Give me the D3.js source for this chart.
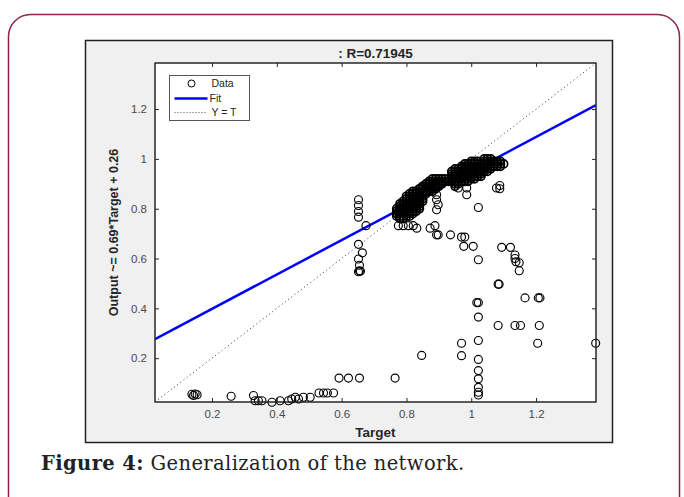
<html>
<head>
    <title>Regression Plot</title>
    <meta charset="utf-8" />
    <style>
      body {
    margin: 0;
    padding: 0;
    background: #fff;
}

.axis-frame {
    fill: #fff;
    stroke: #262626;
    stroke-width: 1;
}

.tick-label {
    fill: #4a4a4a;
    font-family: 'Liberation Sans', Arial, sans-serif;
    font-size: 11.5px;
}

.axis-title {
    fill: #262626;
    font-family: 'Liberation Sans', Arial, sans-serif;
    font-size: 13.5px;
    font-weight: bold;
}

.dot {
    fill: none;
    stroke: #000;
    stroke-width: 1.15;
}

.dot.dense {
    stroke-width: 1.7;
}
    </style>
    <script src="https://d3js.org/d3.v7.min.js"></script>
</head>
<body>
    <script>
// scattered points (target, output)
var scatterTargets = [
    0.138, 0.143, 0.148, 0.154, 0.259, 0.328, 0.333, 0.343, 0.354, 0.385,
    0.410, 0.436, 0.446, 0.457, 0.467, 0.482, 0.503, 0.530, 0.544, 0.556,
    0.575, 0.592, 0.621, 0.655, 0.765, 0.847,
    0.652, 0.652, 0.652, 0.652, 0.675, 0.652, 0.664, 0.652, 0.655, 0.655, 0.652, 0.658,
    0.770, 0.775, 0.790, 0.806, 0.821, 0.832, 0.873, 0.888, 0.893, 0.898,
    0.893, 0.893, 0.898, 0.893, 0.936, 0.970, 0.980, 0.977, 1.006, 1.022,
    1.022, 0.986, 0.960, 0.986, 1.078, 1.088, 1.088, 1.094, 1.121,
    1.135, 1.135, 1.138, 1.148, 1.148, 1.083, 1.086, 1.017, 1.022,
    1.166, 1.207, 1.212, 1.022, 1.083, 1.135, 1.152, 1.210,
    0.970, 1.022, 1.205, 1.384, 0.970, 1.022,
    1.022, 1.022, 1.022, 1.022, 1.022
];
var scatterOutputs = [
    0.055, 0.050, 0.056, 0.053, 0.047, 0.050, 0.029, 0.029, 0.029, 0.023,
    0.029, 0.029, 0.036, 0.043, 0.036, 0.043, 0.043, 0.060, 0.060, 0.060,
    0.060, 0.120, 0.120, 0.120, 0.120, 0.211,
    0.836, 0.813, 0.789, 0.766, 0.732, 0.657, 0.623, 0.598, 0.573, 0.551, 0.547, 0.549,
    0.780, 0.732, 0.732, 0.732, 0.732, 0.722, 0.722, 0.732, 0.695, 0.695,
    0.856, 0.836, 0.816, 0.796, 0.695, 0.686, 0.686, 0.649, 0.649, 0.595,
    0.805, 0.856, 0.883, 0.883, 0.883, 0.893, 0.880, 0.645, 0.645,
    0.614, 0.600, 0.587, 0.583, 0.551, 0.497, 0.497, 0.423, 0.423,
    0.442, 0.442, 0.442, 0.365, 0.331, 0.331, 0.331, 0.331,
    0.260, 0.271, 0.260, 0.260, 0.210, 0.195,
    0.150, 0.117, 0.083, 0.063, 0.052
];

// dense band along the diagonal: one target per column, outputs stacked in it
var bandTargets = [
    0.77, 0.78, 0.79, 0.80, 0.81, 0.82, 0.83, 0.84, 0.85, 0.86,
    0.87, 0.88, 0.89, 0.90, 0.91, 0.92, 0.93, 0.94, 0.95, 0.96,
    0.97, 0.98, 0.99, 1.00, 1.01, 1.02, 1.03, 1.04, 1.05, 1.06,
    1.07, 1.08, 1.09, 1.10
];
var bandOutputs = [
    [0.77, 0.78, 0.79, 0.80],
    [0.76, 0.77, 0.78, 0.79, 0.80, 0.81, 0.82],
    [0.76, 0.77, 0.78, 0.79, 0.80, 0.81, 0.82, 0.83],
    [0.77, 0.78, 0.79, 0.80, 0.81, 0.82, 0.83, 0.84, 0.85],
    [0.77, 0.78, 0.79, 0.80, 0.81, 0.82, 0.83, 0.84, 0.85, 0.86],
    [0.78, 0.79, 0.80, 0.81, 0.82, 0.83, 0.84, 0.85, 0.86, 0.87],
    [0.79, 0.80, 0.81, 0.82, 0.83, 0.84, 0.85, 0.86, 0.87],
    [0.80, 0.81, 0.82, 0.83, 0.84, 0.85, 0.86, 0.87, 0.88],
    [0.83, 0.84, 0.85, 0.86, 0.87, 0.88, 0.89],
    [0.86, 0.87, 0.88, 0.89, 0.90],
    [0.87, 0.88, 0.89, 0.90, 0.91],
    [0.87, 0.88, 0.89, 0.90, 0.91, 0.92],
    [0.88, 0.89, 0.90, 0.91, 0.92],
    [0.89, 0.90, 0.91, 0.92],
    [0.90, 0.91, 0.92],
    [0.91, 0.92],
    [0.91],
    [0.91, 0.92, 0.93, 0.94, 0.95],
    [0.89, 0.90, 0.91, 0.92, 0.93, 0.94, 0.95, 0.96],
    [0.90, 0.91, 0.92, 0.93, 0.94, 0.95, 0.96],
    [0.91, 0.92, 0.93, 0.94, 0.95, 0.96, 0.97],
    [0.91, 0.92, 0.93, 0.94, 0.95, 0.96, 0.97, 0.98],
    [0.91, 0.92, 0.93, 0.94, 0.95, 0.96, 0.97, 0.98],
    [0.92, 0.93, 0.94, 0.95, 0.96, 0.97, 0.98, 0.99],
    [0.92, 0.93, 0.94, 0.95, 0.96, 0.97, 0.98, 0.99],
    [0.93, 0.94, 0.95, 0.96, 0.97, 0.98, 0.99],
    [0.93, 0.94, 0.95, 0.96, 0.97, 0.98],
    [0.95, 0.96, 0.97, 0.98, 0.99, 1.00],
    [0.95, 0.96, 0.97, 0.98, 0.99, 1.00],
    [0.96, 0.97, 0.98, 0.99, 1.00],
    [0.97, 0.98, 0.99],
    [0.97, 0.98, 0.99],
    [0.97, 0.98, 0.99],
    [0.98]
];

var axisLimits = [0.024, 1.385];
var tickValues = [0.2, 0.4, 0.6, 0.8, 1, 1.2];
var fitSlope = 0.69, fitIntercept = 0.26;
var titleText = ": R=0.71945";
var xLabel = "Target";
var yLabel = "Output ~= 0.69*Target + 0.26";
var legendLabels = ["Data", "Fit", "Y = T"];

var W = 684, H = 497;
var plot = { left: 155, right: 596, top: 63, bottom: 402 };

var svg = d3.select("body").append("svg")
    .attr("width", W)
    .attr("height", H);

// card border and figure background
svg.append("rect")
    .attr("x", 8.5).attr("y", 14.5)
    .attr("width", 671).attr("height", 505)
    .attr("rx", 22)
    .attr("fill", "#fff")
    .attr("stroke", "#8e2247")
    .attr("stroke-width", 1.5);

svg.append("rect")
    .attr("x", 85.5).attr("y", 40.5)
    .attr("width", 527).attr("height", 402)
    .attr("fill", "#f0f0f0")
    .attr("stroke", "#222")
    .attr("stroke-width", 1.5);

var x = d3.scaleLinear().domain(axisLimits).range([plot.left, plot.right]);
var y = d3.scaleLinear().domain(axisLimits).range([plot.bottom, plot.top]);

svg.append("rect")
    .attr("class", "axis-frame")
    .attr("x", plot.left).attr("y", plot.top)
    .attr("width", plot.right - plot.left)
    .attr("height", plot.bottom - plot.top);

svg.append("clipPath").attr("id", "plotClip")
    .append("rect")
    .attr("x", plot.left).attr("y", plot.top)
    .attr("width", plot.right - plot.left)
    .attr("height", plot.bottom - plot.top);

// axes, matlab style ticks inside on all four sides
function styleAxis(g) {
    g.select(".domain").remove();
    g.selectAll(".tick line").attr("stroke", "#262626");
    g.selectAll(".tick text").attr("class", "tick-label").attr("font-size", null).attr("font-family", null);
}

svg.append("g")
    .attr("transform", "translate(0," + plot.bottom + ")")
    .call(d3.axisBottom(x).tickValues(tickValues).tickFormat(d3.format("")).tickSizeInner(-4).tickPadding(8))
    .call(styleAxis);
svg.append("g")
    .attr("transform", "translate(0," + plot.top + ")")
    .call(d3.axisTop(x).tickValues(tickValues).tickFormat("").tickSizeInner(-4))
    .call(styleAxis);
svg.append("g")
    .attr("transform", "translate(" + plot.left + ",0)")
    .call(d3.axisLeft(y).tickValues(tickValues).tickFormat(d3.format("")).tickSizeInner(-4).tickPadding(8))
    .call(styleAxis);
svg.append("g")
    .attr("transform", "translate(" + plot.right + ",0)")
    .call(d3.axisRight(y).tickValues(tickValues).tickFormat("").tickSizeInner(-4))
    .call(styleAxis);

var lines = svg.append("g").attr("clip-path", "url(#plotClip)");

// fit line
lines.append("line")
    .attr("x1", x(axisLimits[0])).attr("y1", y(fitSlope * axisLimits[0] + fitIntercept))
    .attr("x2", x(axisLimits[1])).attr("y2", y(fitSlope * axisLimits[1] + fitIntercept))
    .attr("stroke", "#0000ff")
    .attr("stroke-width", 2.5);

// Y = T
lines.append("line")
    .attr("x1", x(axisLimits[0])).attr("y1", y(axisLimits[0]))
    .attr("x2", x(axisLimits[1])).attr("y2", y(axisLimits[1]))
    .attr("stroke", "#333")
    .attr("stroke-width", 1)
    .attr("stroke-dasharray", "1,3");

// data points
var points = scatterTargets.map(function (t, i) {
    return { t: t, o: scatterOutputs[i], dense: false };
});
bandTargets.forEach(function (t, i) {
    bandOutputs[i].forEach(function (o) {
        points.push({ t: t, o: o, dense: true });
    });
});

svg.append("g").selectAll("circle")
    .data(points)
    .enter().append("circle")
    .attr("class", function (d) { return d.dense ? "dot dense" : "dot"; })
    .attr("cx", function (d) { return x(d.t); })
    .attr("cy", function (d) { return y(d.o); })
    .attr("r", 4);

// frame on top
svg.append("rect")
    .attr("x", plot.left).attr("y", plot.top)
    .attr("width", plot.right - plot.left)
    .attr("height", plot.bottom - plot.top)
    .attr("fill", "none")
    .attr("stroke", "#262626")
    .attr("stroke-width", 1);

// legend
var legend = svg.append("g").attr("transform", "translate(169.5,75.5)");
legend.append("rect")
    .attr("width", 80).attr("height", 45)
    .attr("fill", "#fff")
    .attr("stroke", "#555")
    .attr("stroke-width", 1);
legend.append("circle")
    .attr("cx", 22).attr("cy", 8).attr("r", 3.5)
    .attr("fill", "none").attr("stroke", "#000");
legend.append("line")
    .attr("x1", 5).attr("x2", 38).attr("y1", 23).attr("y2", 23)
    .attr("stroke", "#0000ff").attr("stroke-width", 2.5);
legend.append("line")
    .attr("x1", 5).attr("x2", 38).attr("y1", 37).attr("y2", 37)
    .attr("stroke", "#555").attr("stroke-width", 1)
    .attr("stroke-dasharray", "1,2");
legend.selectAll("text.leg")
    .data(legendLabels)
    .enter().append("text")
    .attr("class", "leg")
    .attr("x", function (d, i) { return i == 1 ? 40 : 42; })
    .attr("y", function (d, i) { return 8 + i * 14.5; })
    .attr("dy", "0.35em")
    .attr("font-family", "'Liberation Sans', Arial, sans-serif")
    .attr("font-size", 10.5)
    .attr("fill", "#262626")
    .text(function (d) { return d; });

// titles
svg.append("text")
    .attr("class", "axis-title")
    .attr("x", (plot.left + plot.right) / 2)
    .attr("y", 58)
    .attr("text-anchor", "middle")
    .text(titleText);

svg.append("text")
    .attr("class", "axis-title")
    .attr("x", (plot.left + plot.right) / 2)
    .attr("y", 437)
    .attr("text-anchor", "middle")
    .text(xLabel);

svg.append("text")
    .attr("class", "axis-title")
    .attr("transform", "translate(118," + (plot.top + plot.bottom) / 2 + ") rotate(-90)")
    .attr("text-anchor", "middle")
    .style("font-size", "12.5px")
    .text(yLabel);

// caption
var caption = svg.append("text")
    .attr("x", 41)
    .attr("y", 470)
    .attr("font-family", "'DejaVu Serif', 'Liberation Serif', serif")
    .attr("font-size", 19.5)
    .attr("letter-spacing", 0.4)
    .attr("fill", "#222");
caption.append("tspan").attr("font-weight", "bold").text("Figure 4:");
caption.append("tspan").text(" Generalization of the network.");
    </script>
</body>
</html>
